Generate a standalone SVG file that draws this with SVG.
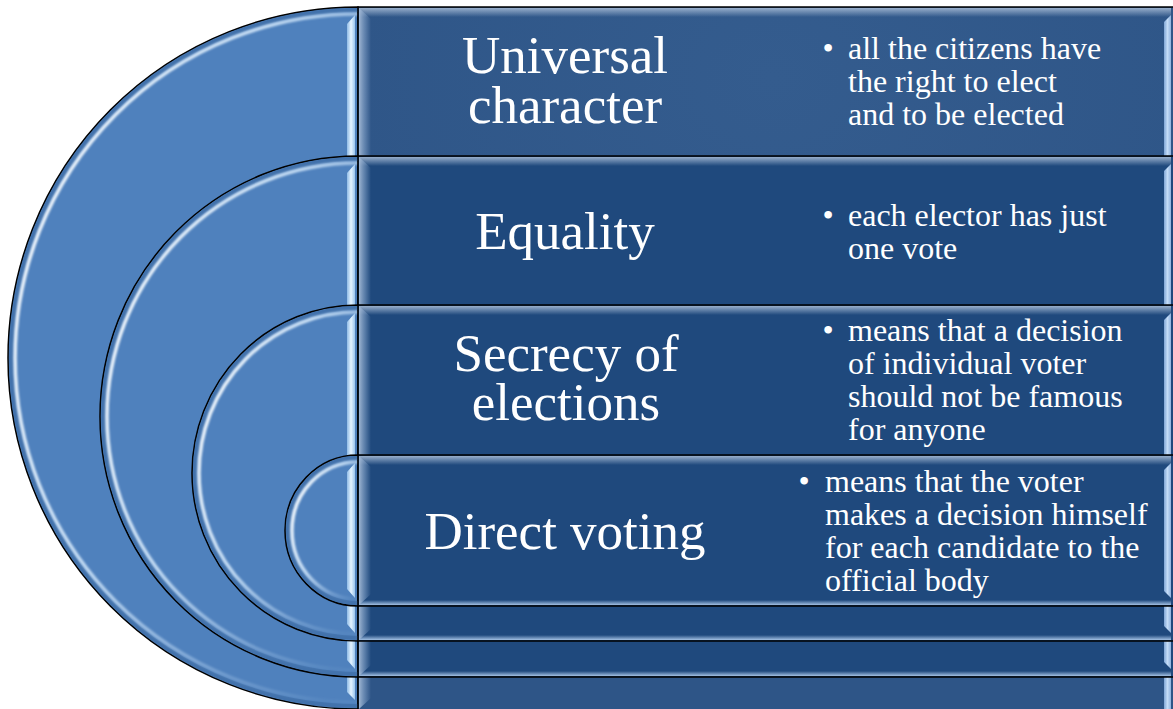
<svg xmlns="http://www.w3.org/2000/svg" width="1173" height="709" viewBox="0 0 1173 709">
<style>
.half{fill:#4f81bd;stroke:#000;stroke-width:1.5}
.sh{fill:none;stroke:#3f6ea8;stroke-width:4;opacity:0.8}
.hl{fill:none;stroke:url(#hlg);stroke-width:3.5;filter:url(#soft)}
.vs{fill:url(#vsg)}
.rect{fill:#1f497d;stroke:#000;stroke-width:1.5}
.rect1{fill:url(#r1g);stroke:#000;stroke-width:1.5}
.tb{fill:url(#tbg)}
.bb{fill:url(#bbg)}
.lb{fill:url(#lbg)}
.rb{fill:url(#rbg)}
text{font-family:'Liberation Serif','Tinos','Times New Roman','DejaVu Serif',serif;fill:#fff}
.title{font-size:53px;text-anchor:middle}
.body{font-size:32px}
.bul{font-size:32px;text-anchor:middle}
</style>
<defs>
<filter id="soft" x="-10%" y="-10%" width="120%" height="120%"><feGaussianBlur stdDeviation="0.8"/></filter>
<linearGradient id="hlg" x1="0" y1="0.15" x2="1" y2="0.85">
<stop offset="0" stop-color="#ffffff" stop-opacity="1"/>
<stop offset="0.45" stop-color="#dcefff" stop-opacity="0.8"/>
<stop offset="0.8" stop-color="#cfe6ff" stop-opacity="0.25"/>
<stop offset="1" stop-color="#cfe6ff" stop-opacity="0.05"/>
</linearGradient>
<linearGradient id="vsg" x1="0" y1="0" x2="1" y2="0">
<stop offset="0" stop-color="#8fbbe6"/>
<stop offset="0.5" stop-color="#e4f3ff"/>
<stop offset="1" stop-color="#9cc6ee"/>
</linearGradient>
<radialGradient id="r1g" cx="0.5" cy="0.1" r="0.6">
<stop offset="0" stop-color="#345c8e"/>
<stop offset="1" stop-color="#2e5587"/>
</radialGradient>
<linearGradient id="tbg" x1="0" y1="0" x2="0" y2="1">
<stop offset="0" stop-color="#9db3cf" stop-opacity="0.95"/>
<stop offset="1" stop-color="#9db3cf" stop-opacity="0"/>
</linearGradient>
<linearGradient id="bbg" x1="0" y1="0" x2="0" y2="1">
<stop offset="0" stop-color="#a9c6e8" stop-opacity="0"/>
<stop offset="1" stop-color="#a9c6e8" stop-opacity="0.95"/>
</linearGradient>
<linearGradient id="lbg" x1="0" y1="0" x2="1" y2="0">
<stop offset="0" stop-color="#a4bad6" stop-opacity="0.95"/>
<stop offset="0.5" stop-color="#7f9ec4" stop-opacity="0.6"/>
<stop offset="1" stop-color="#7f9ec4" stop-opacity="0"/>
</linearGradient>
<linearGradient id="rbg" x1="0" y1="0" x2="1" y2="0">
<stop offset="0" stop-color="#7fa6d6"/>
<stop offset="0.5" stop-color="#c4dcf7"/>
<stop offset="1" stop-color="#8fb2de"/>
</linearGradient>
</defs>

<g id="connectors"></g>

<g id="node-universal">
<path class="half" d="M358,7 A350,351 0 0 0 358,709 Z"/>
<path class="sh" d="M358,10 A347,348 0 0 0 358,706"/>
<path class="hl" d="M358,14 A343,344 0 0 0 358,702"/>
<polygon class="vs" points="347,24 355,15 355,700 347,692"/>
<rect class="rect1" x="358" y="7" width="830" height="703"/>
<rect class="tb" x="359" y="8" width="812" height="9"/>
<polygon class="lb" points="359,8 371,19 371,698 359,709"/>
<polygon class="rb" points="1164,22 1171,15 1171,709 1164,709"/>
<text class="title" x="565" y="73">Universal</text>
<text class="title" x="565" y="123">character</text>
<text class="bul" x="828" y="59">•</text>
<text class="body" x="848" y="59">all the citizens have</text>
<text class="body" x="848" y="92">the right to elect</text>
<text class="body" x="848" y="125">and to be elected</text>
</g>

<g id="node-equality">
<path class="half" d="M358,156 A258,260.5 0 0 0 358,677 Z"/>
<path class="sh" d="M358,159 A255,257.5 0 0 0 358,674"/>
<path class="hl" d="M358,163 A251,253.5 0 0 0 358,670"/>
<polygon class="vs" points="347,173 355,164 355,669 347,660"/>
<rect class="rect" x="358" y="156" width="830" height="521"/>
<rect class="tb" x="359" y="157" width="812" height="9"/>
<rect class="bb" x="359" y="671" width="812" height="5"/>
<polygon class="lb" points="359,157 371,168 371,665 359,676"/>
<polygon class="rb" points="1164,171 1171,164 1171,669 1164,662"/>
<text class="title" x="565" y="249">Equality</text>
<text class="bul" x="828" y="226">•</text>
<text class="body" x="848" y="226">each elector has just</text>
<text class="body" x="848" y="259">one vote</text>
</g>

<g id="node-secrecy">
<path class="half" d="M358,305 A166,168 0 0 0 358,641 Z"/>
<path class="sh" d="M358,308 A163,165 0 0 0 358,638"/>
<path class="hl" d="M358,312 A159,161 0 0 0 358,634"/>
<polygon class="vs" points="347,322 355,313 355,633 347,624"/>
<rect class="rect" x="358" y="305" width="830" height="336"/>
<rect class="tb" x="359" y="306" width="812" height="9"/>
<rect class="bb" x="359" y="635" width="812" height="5"/>
<polygon class="lb" points="359,306 371,317 371,629 359,640"/>
<polygon class="rb" points="1164,320 1171,313 1171,633 1164,626"/>
<text class="title" x="566" y="371">Secrecy of</text>
<text class="title" x="566" y="420">elections</text>
<text class="bul" x="828" y="341">•</text>
<text class="body" x="848" y="341">means that a decision</text>
<text class="body" x="848" y="374">of individual voter</text>
<text class="body" x="848" y="407">should not be famous</text>
<text class="body" x="848" y="440">for anyone</text>
</g>

<g id="node-direct">
<path class="half" d="M358,455 A73,75.5 0 0 0 358,606 Z"/>
<path class="sh" d="M358,458 A70,72.5 0 0 0 358,603"/>
<path class="hl" d="M358,462 A66,68.5 0 0 0 358,599"/>
<polygon class="vs" points="347,472 355,463 355,598 347,589"/>
<rect class="rect" x="358" y="455" width="830" height="151"/>
<rect class="tb" x="359" y="456" width="812" height="9"/>
<rect class="bb" x="359" y="600" width="812" height="5"/>
<polygon class="lb" points="359,456 371,467 371,594 359,605"/>
<polygon class="rb" points="1164,470 1171,463 1171,598 1164,591"/>
<text class="title" x="565" y="549">Direct voting</text>
<text class="bul" x="804" y="492">•</text>
<text class="body" x="825" y="492">means that the voter</text>
<text class="body" x="825" y="525">makes a decision himself</text>
<text class="body" x="825" y="558">for each candidate to the</text>
<text class="body" x="825" y="591">official body</text>
</g>
</svg>
